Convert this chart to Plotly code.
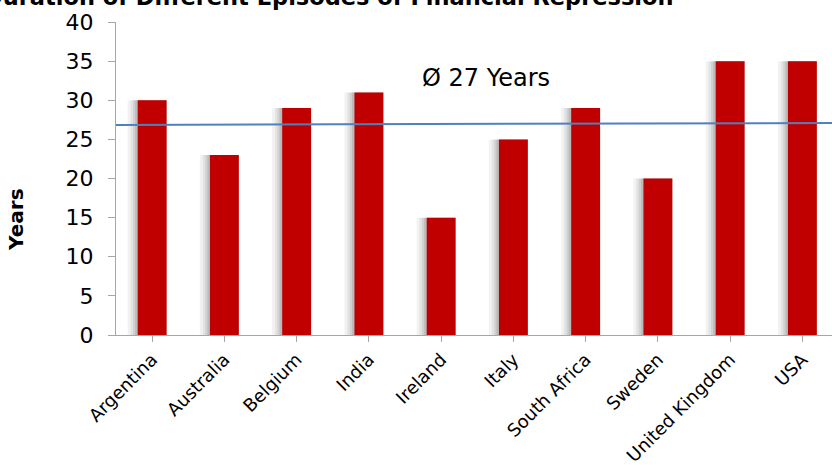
import plotly.graph_objects as go

countries = ["Argentina", "Australia", "Belgium", "India", "Ireland",
             "Italy", "South Africa", "Sweden", "United Kingdom", "USA"]
years = [30, 23, 29, 31, 15, 25, 29, 20, 35, 35]
average_years = 27
average_label = "Ø 27 Years"
title_text = "Duration of Different Episodes of Financial Repression"

FONT = "DejaVu Sans"
xs = list(range(len(countries)))
fig = go.Figure()

# soft shadow falling to the left of each bar
for extra, alpha in [(0.14, 0.05), (0.10, 0.06), (0.065, 0.08), (0.035, 0.10)]:
    fig.add_trace(go.Bar(
        x=xs, y=years,
        width=0.4 + extra, offset=-0.2 - extra,
        marker=dict(color=f"rgba(0,0,0,{alpha})", line=dict(width=0)),
        hoverinfo="skip", showlegend=False,
    ))

fig.add_trace(go.Bar(
    x=xs, y=years, width=0.4, offset=-0.2,
    marker=dict(color="#C00000", line=dict(width=0)),
    showlegend=False,
))

# average line across the whole plot
fig.add_trace(go.Scatter(
    x=[-0.56, 9.5], y=[average_years - 0.15, average_years + 0.1], mode="lines",
    line=dict(color="#4F81BD", width=2), showlegend=False, cliponaxis=False,
))

fig.add_annotation(x=4.62, y=32.9, xref="x", yref="y", text=average_label,
                   showarrow=False, font=dict(family=FONT, size=24, color="#000"))

fig.add_annotation(x=0.781, y=1.08, xref="paper", yref="paper", text=f"<b>{title_text}</b>",
                   xanchor="right", yanchor="middle", showarrow=False,
                   font=dict(family=FONT, size=22.5, color="#000"))

fig.add_annotation(x=-0.14, y=0.367, xref="paper", yref="paper", text="<b>Years</b>",
                   textangle=-90, xanchor="center", showarrow=False,
                   font=dict(family=FONT, size=20, color="#000"))

fig.update_layout(
    width=832, height=465,
    margin=dict(l=116, r=0, t=22, b=130, autoexpand=False),
    plot_bgcolor="white", paper_bgcolor="white",
    barmode="overlay",
    font=dict(family=FONT, color="#000"),
    xaxis=dict(
        range=[-0.5, 9.41], tickmode="array",
        tickvals=xs, ticktext=countries,
        tickangle=-45, tickfont=dict(size=18),
        showline=True, linecolor="#A6A6A6", linewidth=1,
        ticks="outside", tickson="boundaries", ticklen=6, tickcolor="#A6A6A6",
        showgrid=False, zeroline=False,
    ),
    yaxis=dict(
        range=[0, 40], dtick=5, tickfont=dict(size=22),
        showline=True, linecolor="#A6A6A6", linewidth=1,
        ticks="outside", ticklen=7, tickcolor="#A6A6A6",
        showgrid=False, zeroline=False, ticklabelstandoff=10,
    ),
)

fig.write_html("out.html")
